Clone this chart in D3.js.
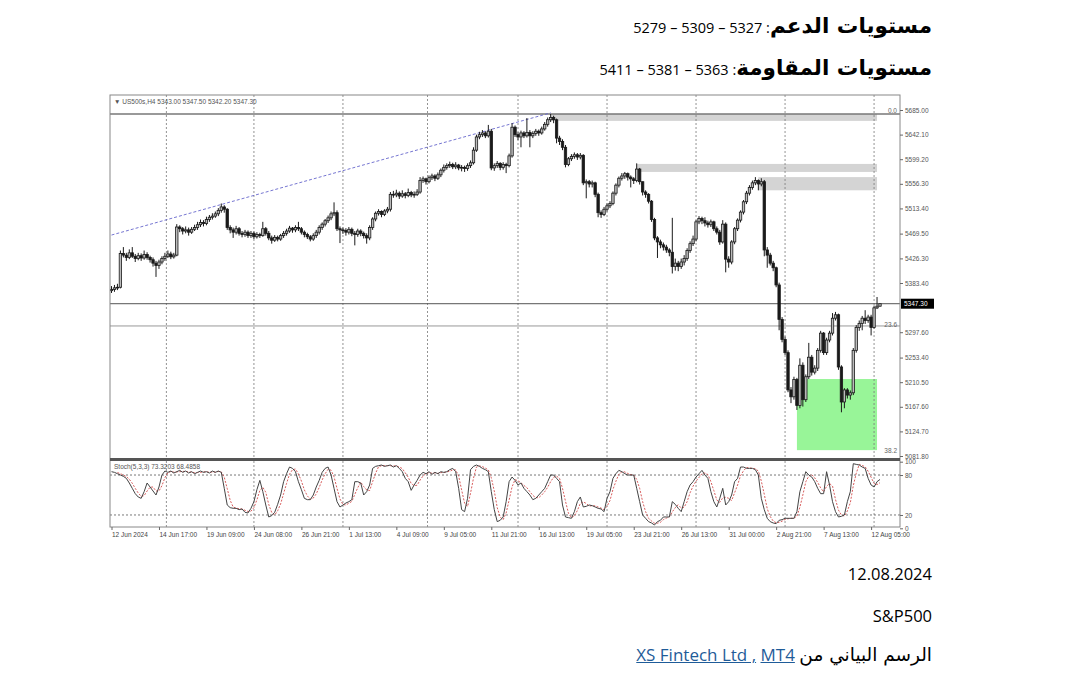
<!DOCTYPE html>
<html>
<head>
<meta charset="utf-8">
<script src="https://cdn.jsdelivr.net/npm/d3@7"></script>
<style>
  body { margin: 0; background: #fff; width: 1080px; height: 692px; overflow: hidden; position: relative; font-family: "Open Sans", sans-serif; }
  .line { position: absolute; right: 148px; direction: rtl; white-space: nowrap; color: #000; }
  .ar { font-family: "DejaVu Sans", sans-serif; font-size: 18.5px; }
  .arb { font-family: "DejaVu Sans", sans-serif; font-weight: bold; font-size: 21.5px; }
  .lnk { color: #1f5c99; text-decoration: underline; }
  svg { position: absolute; left: 0; top: 0; }
  svg text { font-family: "Liberation Sans", Arial, sans-serif; }
</style>
</head>
<body>
<div id="texts"></div>
<svg id="chart" width="1080" height="692"></svg>
<script>
// levels quoted in the text
const supportLevels = [5327, 5309, 5279];
const resistanceLevels = [5363, 5381, 5411];
const dateLabel = '12.08.2024';
const symbolLabel = 'S&P500';

// H4 candles: [high, low, close]; open is the close of the bar before
const firstOpen = 5370;
const bars = [
  [5378,5366,5372],[5380,5368,5375],[5382,5371,5376],[5440,5374,5435],[5446,5428,5432],[5436,5422,5428],[5442,5425,5436],[5446,5427,5430],[5434,5420,5426],[5436,5423,5431],
  [5435,5422,5427],[5440,5424,5433],[5437,5424,5428],[5431,5419,5424],[5428,5412,5418],[5422,5394,5414],[5424,5408,5420],[5430,5416,5426],[5436,5422,5430],[5440,5427,5434],
  [5438,5425,5429],[5436,5426,5432],[5486,5430,5481],[5484,5472,5478],[5481,5468,5474],[5482,5470,5476],[5480,5466,5472],[5481,5469,5477],[5485,5474,5480],[5490,5476,5485],
  [5494,5481,5489],[5493,5482,5487],[5499,5484,5494],[5502,5490,5498],[5505,5494,5500],[5508,5497,5504],[5514,5500,5510],[5522,5506,5516],[5519,5506,5512],[5514,5476,5480],
  [5484,5470,5476],[5480,5462,5472],[5483,5468,5478],[5481,5466,5470],[5474,5463,5468],[5476,5464,5472],[5475,5462,5466],[5474,5462,5470],[5473,5460,5464],[5472,5461,5468],
  [5471,5462,5466],[5490,5464,5478],[5481,5466,5470],[5474,5458,5462],[5466,5452,5458],[5467,5455,5463],[5466,5456,5460],[5469,5457,5466],[5474,5462,5470],[5478,5466,5474],
  [5483,5471,5479],[5481,5471,5476],[5484,5472,5480],[5490,5474,5478],[5481,5468,5472],[5475,5463,5468],[5471,5460,5464],[5467,5456,5460],[5470,5457,5466],[5476,5462,5472],
  [5484,5468,5480],[5489,5476,5486],[5495,5482,5492],[5501,5488,5497],[5508,5493,5504],[5524,5500,5506],[5510,5474,5478],[5482,5453,5476],[5480,5469,5475],[5479,5466,5472],
  [5481,5468,5477],[5480,5465,5470],[5474,5449,5468],[5478,5464,5474],[5477,5465,5470],[5473,5461,5466],[5470,5452,5462],[5484,5458,5480],[5498,5476,5495],[5508,5491,5505],
  [5512,5501,5508],[5510,5498,5503],[5512,5500,5509],[5516,5505,5512],[5542,5508,5538],[5544,5532,5537],[5546,5533,5540],[5543,5530,5535],[5545,5532,5539],[5542,5531,5536],
  [5548,5533,5541],[5544,5533,5537],[5543,5532,5538],[5547,5535,5542],[5568,5539,5562],[5569,5558,5565],[5567,5555,5560],[5571,5557,5567],[5574,5563,5570],[5573,5561,5566],
  [5576,5563,5572],[5583,5568,5580],[5590,5576,5585],[5592,5581,5588],[5595,5584,5590],[5593,5582,5586],[5594,5582,5589],[5591,5580,5584],[5589,5578,5585],[5588,5577,5583],
  [5592,5579,5588],[5597,5584,5593],[5620,5590,5615],[5642,5612,5638],[5647,5634,5642],[5650,5638,5645],[5648,5636,5640],[5659,5637,5648],[5652,5580,5584],[5592,5579,5588],
  [5596,5584,5592],[5594,5580,5585],[5594,5581,5590],[5593,5575,5588],[5609,5585,5605],[5662,5602,5655],[5658,5638,5642],[5646,5633,5638],[5649,5620,5645],[5648,5636,5640],
  [5671,5637,5646],[5650,5620,5640],[5648,5636,5644],[5652,5640,5648],[5651,5640,5645],[5656,5642,5652],[5664,5649,5660],[5672,5656,5668],[5678,5664,5672],[5675,5662,5668],
  [5670,5627,5636],[5640,5624,5630],[5634,5615,5620],[5624,5585,5590],[5603,5587,5600],[5608,5596,5604],[5611,5600,5607],[5610,5598,5603],[5610,5599,5606],[5608,5554,5558],
  [5564,5531,5560],[5563,5550,5556],[5562,5550,5558],[5560,5533,5538],[5541,5498,5506],[5510,5497,5503],[5516,5500,5512],[5522,5508,5518],[5526,5514,5522],[5543,5519,5540],
  [5557,5536,5554],[5569,5550,5566],[5575,5562,5570],[5577,5565,5574],[5576,5562,5568],[5571,5550,5565],[5568,5556,5562],[5592,5559,5582],[5584,5555,5560],[5560,5536,5542],
  [5545,5532,5538],[5540,5522,5526],[5528,5490,5494],[5497,5458,5462],[5465,5427,5455],[5459,5444,5450],[5454,5440,5446],[5450,5436,5441],[5444,5430,5437],[5497,5400,5412],
  [5426,5405,5418],[5422,5404,5412],[5426,5408,5420],[5432,5414,5426],[5444,5422,5440],[5456,5436,5452],[5466,5448,5460],[5493,5456,5490],[5500,5486,5496],[5499,5486,5492],
  [5498,5482,5488],[5492,5480,5485],[5494,5481,5490],[5492,5474,5478],[5482,5468,5472],[5476,5450,5455],[5493,5452,5486],[5489,5402,5425],[5430,5410,5420],[5458,5416,5455],
  [5481,5451,5478],[5496,5474,5493],[5510,5489,5507],[5528,5503,5525],[5544,5521,5540],[5554,5536,5550],[5562,5546,5558],[5568,5554,5562],[5564,5545,5556],[5566,5552,5560],
  [5563,5430,5441],[5446,5410,5432],[5436,5414,5418],[5422,5404,5410],[5412,5376,5380],[5384,5301,5320],[5324,5280,5285],[5290,5258,5262],[5266,5193,5197],[5202,5174,5185],
  [5220,5180,5215],[5218,5162,5170],[5252,5165,5240],[5245,5168,5180],[5224,5176,5220],[5279,5216,5254],[5258,5222,5228],[5240,5224,5235],[5270,5230,5266],[5300,5262,5296],
  [5298,5258,5262],[5288,5258,5284],[5300,5280,5296],[5331,5292,5322],[5333,5318,5328],[5330,5232,5237],[5240,5158,5176],[5200,5165,5197],[5200,5182,5188],[5196,5180,5192],
  [5270,5188,5266],[5310,5262,5306],[5318,5300,5313],[5326,5301,5322],[5336,5312,5318],[5328,5314,5324],[5328,5292,5306],[5344,5304,5340],[5359,5338,5343],[5347.5,5342.2,5347.3]
];

// Stochastic %K (5,3,3), one value per bar
const stochMain = [
  85,84,82,80,78,75,68,60,52,47,
  45,55,68,62,56,50,62,80,86,84,
  86,83,85,87,84,86,83,85,82,84,
  86,84,85,83,86,84,86,84,60,35,
  31,30,30,28,29,24,23,30,40,58,
  72,55,35,17,19,24,36,50,70,82,
  92,90,85,70,58,45,43,43,50,62,
  72,84,90,92,80,60,40,32,35,38,
  40,43,70,70,68,50,55,65,90,93,
  94,95,93,94,95,92,94,90,85,75,
  70,57,65,72,80,84,82,85,81,84,
  82,85,84,85,88,90,85,60,28,25,
  45,88,93,95,93,90,88,85,55,28,
  10,12,17,40,70,77,72,65,68,60,
  55,50,43,45,50,55,60,70,80,80,
  75,70,35,17,16,15,25,40,47,32,
  33,35,34,32,30,29,25,45,55,75,
  82,87,85,82,80,80,80,60,40,20,
  15,10,8,5,10,12,17,17,17,40,
  36,30,25,40,55,65,70,77,82,87,
  80,75,55,40,32,45,60,35,40,50,
  70,75,92,92,90,90,90,88,80,45,
  28,15,10,8,7,12,13,15,15,15,
  15,25,55,70,85,80,77,70,60,52,
  52,85,65,40,25,17,18,20,40,55,
  97,96,95,92,90,75,65,62,70,73.3203
];
const signalPeriod = 3;
const stochHeader = 'Stoch(5,3,3) 73.3203 68.4858';
const chartHeader = '▼ US500s,H4  5343.00 5347.50 5342.20 5347.30';

// axis labels
const priceTicks = [5685.00, 5642.10, 5599.20, 5556.30, 5513.40, 5469.50, 5426.30, 5383.40, 5297.60, 5253.40, 5210.50, 5167.60, 5124.70, 5081.80];
const stochTicks = [100, 80, 20, 0];
const stochLevels = [80, 20];
const timeLabels = ['12 Jun 2024','14 Jun 17:00','19 Jun 09:00','24 Jun 08:00','26 Jun 21:00','1 Jul 13:00','4 Jul 09:00','9 Jul 05:00',
  '11 Jul 21:00','16 Jul 13:00','19 Jul 05:00','23 Jul 21:00','26 Jul 13:00','31 Jul 00:00','2 Aug 21:00','7 Aug 13:00','12 Aug 05:00'];
const timeLabelBars = [0,16,32,48,64,80,96,112,128,144,160,176,192,208,224,240,256];
const gridBars = [18.5, 48, 78, 106.5, 137, 167, 197, 227, 257];

// drawn objects
const trendLine = [[0, 5467], [148, 5680]];
const zones = [
  { from: 148, to: 258, top: 5678, bottom: 5666, color: '#d4d4d4' },
  { from: 177, to: 258, top: 5591, bottom: 5577, color: '#d4d4d4' },
  { from: 218, to: 258, top: 5568, bottom: 5545, color: '#d4d4d4' },
  { from: 231, to: 258, top: 5216, bottom: 5092, color: '#98f598' }
];
const hLines = [
  { price: 5678, color: '#777', width: 1.6 },
  { price: 5347.3, color: '#555', width: 1 },
  { price: 5308.5, color: '#999', width: 1 }
];
const fibLabels = [['0.0', 5684], ['23.6', 5311], ['38.2', 5090]];
const lastPrice = 5347.3;

// ---------- texts ----------
const texts = d3.select('#texts');
const lvl = (arr) => arr.join(' – ');
texts.append('div').attr('class', 'line').style('top', '13px').style('font-size', '14.5px')
  .html(`<span class="arb">مستويات الدعم</span>: ${lvl(supportLevels)}`);
texts.append('div').attr('class', 'line').style('top', '55px').style('font-size', '14.5px')
  .html(`<span class="arb">مستويات المقاومة</span>: ${lvl(resistanceLevels)}`);
texts.append('div').attr('class', 'line').style('top', '562px').style('font-size', '16.5px').text(dateLabel);
texts.append('div').attr('class', 'line').style('top', '604px').style('font-size', '16.5px').text(symbolLabel);
texts.append('div').attr('class', 'line').style('top', '643px').style('font-size', '17px')
  .html(`<span class="ar">الرسم البياني من</span> <span dir="ltr"><span class="lnk">XS Fintech Ltd ,</span> <span class="lnk">MT4</span></span>`);

// ---------- chart ----------
const plotL = 110, plotR = 900, plotT = 95, mainB = 458, stochT = 461, plotB = 527;
const svg = d3.select('#chart');

const x = d3.scaleLinear().domain([0, bars.length - 1]).range([111.5, 880]);
const y = d3.scaleLinear().domain([5081.8, 5685]).range([456, 110]);
const ys = d3.scaleLinear().domain([0, 100]).range([528.3, 461.7]);

const defs = svg.append('defs');
defs.append('clipPath').attr('id', 'clipMain').append('rect')
  .attr('x', plotL).attr('y', plotT).attr('width', plotR - plotL).attr('height', mainB - plotT);
defs.append('clipPath').attr('id', 'clipStoch').append('rect')
  .attr('x', plotL).attr('y', stochT).attr('width', plotR - plotL).attr('height', plotB - stochT);

// candles with opens
let prev = firstOpen;
const candles = bars.map((b, i) => {
  const c = { i: i, o: prev, h: b[0], l: b[1], c: b[2] };
  prev = b[2];
  return c;
});

const main = svg.append('g').attr('clip-path', 'url(#clipMain)');

// zones (behind everything)
main.selectAll('rect.zone').data(zones).join('rect')
  .attr('class', 'zone')
  .attr('x', d => x(d.from)).attr('width', d => x(d.to) - x(d.from))
  .attr('y', d => y(d.top)).attr('height', d => y(d.bottom) - y(d.top))
  .attr('fill', d => d.color);

// vertical grid
main.selectAll('line.grid').data(gridBars).join('line')
  .attr('class', 'grid')
  .attr('x1', d => x(d)).attr('x2', d => x(d))
  .attr('y1', plotT).attr('y2', mainB)
  .attr('stroke', '#777').attr('stroke-width', 0.8).attr('stroke-dasharray', '2,2');

// horizontal lines
main.selectAll('line.h').data(hLines).join('line')
  .attr('class', 'h')
  .attr('x1', plotL).attr('x2', plotR)
  .attr('y1', d => y(d.price)).attr('y2', d => y(d.price))
  .attr('stroke', d => d.color).attr('stroke-width', d => d.width);

// trend line
main.append('line')
  .attr('x1', x(trendLine[0][0])).attr('y1', y(trendLine[0][1]))
  .attr('x2', x(trendLine[1][0])).attr('y2', y(trendLine[1][1]))
  .attr('stroke', '#6666cc').attr('stroke-width', 0.9).attr('stroke-dasharray', '3,2');

// candles
const cg = main.append('g');
cg.selectAll('line.wick').data(candles).join('line')
  .attr('class', 'wick')
  .attr('x1', d => x(d.i)).attr('x2', d => x(d.i))
  .attr('y1', d => y(Math.max(d.h, d.o, d.c))).attr('y2', d => y(Math.min(d.l, d.o, d.c)))
  .attr('stroke', '#1a1a1a').attr('stroke-width', 1);
cg.selectAll('rect.body').data(candles).join('rect')
  .attr('class', 'body')
  .attr('x', d => x(d.i) - 1.2).attr('width', 2.4)
  .attr('y', d => y(Math.max(d.o, d.c)))
  .attr('height', d => Math.max(0.8, Math.abs(y(d.o) - y(d.c))))
  .attr('fill', d => d.c >= d.o ? '#bbb' : '#1a1a1a')
  .attr('stroke', '#1a1a1a').attr('stroke-width', 0.8);

// fib labels
svg.selectAll('text.fib').data(fibLabels).join('text')
  .attr('class', 'fib')
  .attr('x', 897).attr('y', d => y(d[1]) + 2)
  .attr('text-anchor', 'end').attr('font-size', 6.5).attr('fill', '#666')
  .text(d => d[0]);

// header
svg.append('text').attr('x', 114).attr('y', 104).attr('font-size', 6.5).attr('fill', '#555')
  .text(chartHeader);

// stochastic panel
const st = svg.append('g').attr('clip-path', 'url(#clipStoch)');
st.selectAll('line.grid').data(gridBars).join('line')
  .attr('class', 'grid')
  .attr('x1', d => x(d)).attr('x2', d => x(d))
  .attr('y1', stochT).attr('y2', plotB)
  .attr('stroke', '#777').attr('stroke-width', 0.8).attr('stroke-dasharray', '2,2');
st.selectAll('line.lvl').data(stochLevels).join('line')
  .attr('class', 'lvl')
  .attr('x1', plotL).attr('x2', plotR)
  .attr('y1', d => ys(d)).attr('y2', d => ys(d))
  .attr('stroke', '#555').attr('stroke-width', 0.8).attr('stroke-dasharray', '2,2');

// %D signal line = moving average of %K
const signal = stochMain.map((v, i) => i < signalPeriod - 1 ? null : d3.mean(stochMain.slice(i - signalPeriod + 1, i + 1)));
const lineGen = d3.line().defined(d => d != null).x((d, i) => x(i)).y(d => ys(d));
st.append('path').datum(signal).attr('d', lineGen)
  .attr('fill', 'none').attr('stroke', '#d24a4a').attr('stroke-width', 0.9).attr('stroke-dasharray', '2,1.5');
st.append('path').datum(stochMain).attr('d', lineGen)
  .attr('fill', 'none').attr('stroke', '#444').attr('stroke-width', 1);

svg.append('text').attr('x', 114).attr('y', 469).attr('font-size', 6.5).attr('fill', '#555')
  .text(stochHeader);

// frame
svg.append('rect').attr('x', plotL).attr('y', plotT).attr('width', plotR - plotL).attr('height', plotB - plotT)
  .attr('fill', 'none').attr('stroke', '#888').attr('stroke-width', 1);
svg.append('rect').attr('x', plotL).attr('y', mainB).attr('width', plotR - plotL).attr('height', stochT - mainB)
  .attr('fill', '#555');

// price axis
const pAxis = svg.append('g').attr('transform', `translate(${plotR},0)`)
  .call(d3.axisRight(y).tickValues(priceTicks).tickSize(3).tickPadding(2).tickFormat(d3.format('.2f')));
pAxis.select('.domain').remove();
pAxis.selectAll('line').attr('stroke', '#666');
pAxis.selectAll('text').attr('font-size', 6.5).attr('fill', '#555').attr('font-family', 'Liberation Sans');

// last price marker
svg.append('rect').attr('x', plotR + 1).attr('y', y(lastPrice) - 5).attr('width', 33).attr('height', 10).attr('fill', '#000');
svg.append('text').attr('x', plotR + 4).attr('y', y(lastPrice) + 2.3).attr('font-size', 6.5).attr('fill', '#fff')
  .text(lastPrice.toFixed(2));

// stoch axis
const sAxis = svg.append('g').attr('transform', `translate(${plotR},0)`)
  .call(d3.axisRight(ys).tickValues(stochTicks).tickSize(3).tickPadding(2));
sAxis.select('.domain').remove();
sAxis.selectAll('line').attr('stroke', '#666');
sAxis.selectAll('text').attr('font-size', 6.5).attr('fill', '#555').attr('font-family', 'Liberation Sans');

// time axis
const tAxis = svg.append('g').attr('transform', `translate(0,${plotB})`)
  .call(d3.axisBottom(x).tickValues(timeLabelBars).tickSize(3).tickPadding(2).tickFormat((d, i) => timeLabels[i]));
tAxis.select('.domain').remove();
tAxis.selectAll('line').attr('stroke', '#666');
tAxis.selectAll('text').attr('font-size', 6.5).attr('fill', '#444').attr('text-anchor', 'start')
  .attr('font-family', 'Liberation Sans');
</script>
</body>
</html>
